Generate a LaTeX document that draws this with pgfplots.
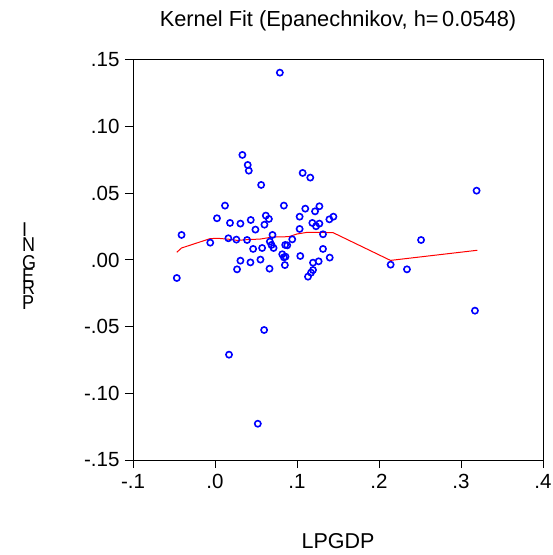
\documentclass[border=0pt]{standalone}
\usepackage{fontspec}
\setmainfont{Liberation Sans}
\usepackage{pgfplots}
\pgfplotsset{compat=1.18}

\begin{document}
\begin{tikzpicture}
\begin{axis}[
    scale only axis,
    width=410bp, height=400bp,
    xmin=-0.1, xmax=0.4,
    ymin=-0.15, ymax=0.15,
    axis line style={line width=1bp},
    tick style={line width=1bp, black},
    tick align=outside,
    major tick length=8bp,
    xtick pos=left, ytick pos=left,
    xtick={-0.1,0,0.1,0.2,0.3,0.4},
    xticklabels={-.1,.0,.1,.2,.3,.4},
    ytick={-0.15,-0.1,-0.05,0,0.05,0.1,0.15},
    yticklabels={-.15,-.10,-.05,.00,.05,.10,.15},
    ticklabel style={font=\fontsize{20.5bp}{24bp}\selectfont},
    xticklabel style={yshift=-3bp},
    yticklabel style={xshift=-2bp},
    title={Kernel Fit (Epanechnikov, h=\,0.0548)},
    title style={font=\fontsize{21.8bp}{25bp}\selectfont, at={(0.5,1)}, anchor=base, yshift=28bp},
    xlabel={LPGDP},
    xlabel style={font=\fontsize{21.5bp}{25bp}\selectfont, at={(0.5,0)}, anchor=base, yshift=-88bp},
    clip=false,
]
% scatter
\addplot[only marks, mark=o, mark size=3.1bp, draw=blue, line width=1.6bp] coordinates {
(0.0791,0.1405) (0.0334,0.0788) (0.0399,0.0713) (0.0412,0.0670) (0.1069,0.0653)
(0.1162,0.0618) (0.0563,0.0563) (0.3190,0.0520) (0.0122,0.0408) (0.0840,0.0408)
(0.1101,0.0385) (0.1273,0.0403) (0.1220,0.0365) (0.0024,0.0313) (0.0620,0.0333)
(0.0657,0.0308) (0.0436,0.0300) (0.1032,0.0325) (0.1395,0.0305) (0.1444,0.0325)
(0.0183,0.0278) (0.0310,0.0273) (0.0603,0.0265) (0.1187,0.0278) (0.1273,0.0273)
(0.1232,0.0253) (0.0493,0.0228) (0.1032,0.0233) (-0.0408,0.0188) (0.0163,0.0163)
(0.0261,0.0153) (0.0391,0.0150) (0.0701,0.0188) (0.1317,0.0193) (0.0942,0.0155)
(-0.0058,0.0130) (0.0669,0.0138) (0.0689,0.0113) (0.0714,0.0090) (0.0856,0.0113)
(0.0881,0.0110) (0.0465,0.0083) (0.0575,0.0090) (0.1317,0.0083) (0.2513,0.0150)
(0.0820,0.0043) (0.0840,0.0020) (0.0860,0.0025) (0.1040,0.0030) (0.1399,0.0018)
(0.0310,-0.0005) (0.0554,0.0003) (0.0432,-0.0018) (0.0852,-0.0038) (0.1195,-0.0020)
(0.1264,-0.0010) (0.2142,-0.0035) (0.0269,-0.0070) (0.0665,-0.0065) (0.2341,-0.0070)
(0.1195,-0.0075) (0.1171,-0.0095) (0.1134,-0.0125) (-0.0466,-0.0135) (0.3170,-0.0380)
(0.0599,-0.0525) (0.0171,-0.0710) (0.0522,-0.1228)
};
% kernel fit
\addplot[red, line width=1bp, mark=none] coordinates {
(-0.0466,0.0058) (-0.0408,0.0090) (-0.0060,0.0160) (0.0030,0.0163) (0.0180,0.0155)
(0.0270,0.0147) (0.0400,0.0153) (0.0550,0.0157) (0.0700,0.0172) (0.0900,0.0175)
(0.1000,0.0195) (0.1120,0.0207) (0.1250,0.0208) (0.1440,0.0205) (0.2140,-0.0003)
(0.3200,0.0073)
};
\end{axis}
% stacked y label letters
\begin{scope}[every node/.style={font=\fontsize{20bp}{22bp}\selectfont, anchor=base west, inner sep=0pt, xscale=0.9}]
\node at (-111bp,223bp) {I};
\node at (-111bp,208bp) {N};
\node at (-111bp,190bp) {G};
\node at (-111bp,177bp) {E};
\node at (-111bp,165bp) {R};
\node at (-111bp,150bp) {P};
\end{scope}
\pgfresetboundingbox
\useasboundingbox (-133bp,-95bp) rectangle (420bp,460bp);
\end{tikzpicture}
\end{document}
